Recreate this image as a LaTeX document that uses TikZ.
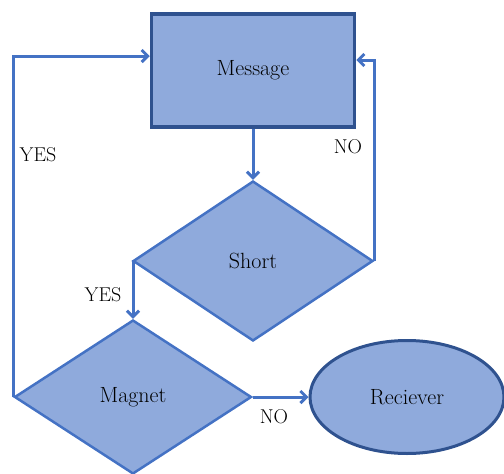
\documentclass[tikz,border=0pt]{standalone}
\usetikzlibrary{shapes.geometric,arrows.meta}
\definecolor{fillblue}{RGB}{143,170,220}
\definecolor{lineblue}{RGB}{68,114,196}
\definecolor{darkblue}{RGB}{47,82,143}
\tikzset{
  txt/.style={font=\rmfamily\fontsize{22}{26}\selectfont},
  boxnode/.style={txt,draw=darkblue,line width=3.5pt,fill=fillblue,rectangle,minimum width=203pt,minimum height=113pt,inner sep=0pt},
  decision/.style={txt,draw=lineblue,line width=2.5pt,fill=fillblue,diamond,inner sep=0pt},
  endnode/.style={txt,draw=darkblue,line width=3pt,fill=fillblue,ellipse,minimum width=194pt,minimum height=113pt,inner sep=0pt},
  conn/.style={draw=lineblue,line width=3pt,-{Straight Barb[length=6pt,width=12pt]}},
  lbl/.style={font=\rmfamily\fontsize{20}{24}\selectfont,inner sep=0pt}
}
\begin{document}
\begin{tikzpicture}[x=1pt,y=-1pt]
\useasboundingbox (0,0) rectangle (504,474);
\node[boxnode] (msg) at (253,70.5) {Message};
\node[decision,minimum width=240pt,minimum height=160pt] (short) at (253,261) {Short};
\node[decision,minimum width=237pt,minimum height=154pt] (magnet) at (133,397) {Magnet};
\node[endnode] (recv) at (407,397) {Reciever};
\draw[conn] (msg.south) -- (short.north);
\draw[conn] (short.west) -| (magnet.north);
\draw[conn] (magnet.west) |- ([yshift=14.5pt]msg.west);
\draw[conn] (short.east) |- ([yshift=10.5pt]msg.east);
\draw[conn] (magnet.east) -- (recv.west);
\node[lbl] (yes1) at (38,155) {YES};
\node[lbl] (no1) at (348,147) {NO};
\node[lbl] (yes2) at (103,295) {YES};
\node[lbl] (no2) at (274,417) {NO};
\end{tikzpicture}
\end{document}
